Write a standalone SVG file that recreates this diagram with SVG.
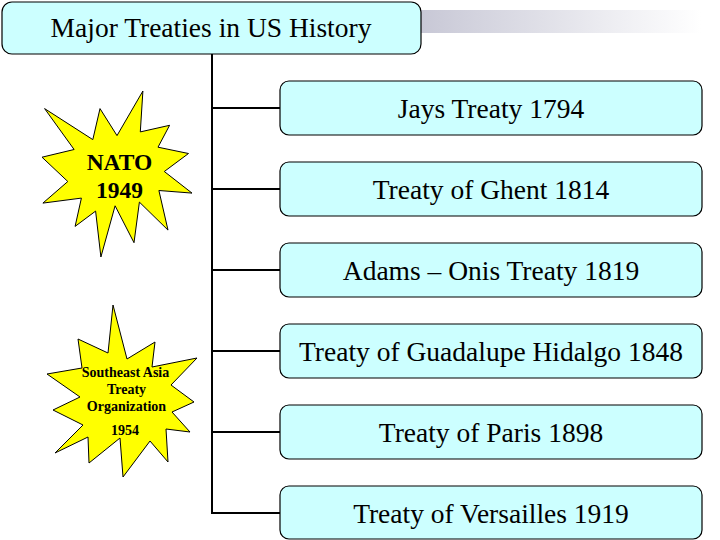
<svg xmlns="http://www.w3.org/2000/svg" width="720" height="540" viewBox="0 0 720 540">
<defs>
<linearGradient id="bar" x1="0" y1="0" x2="1" y2="0">
<stop offset="0" stop-color="#c8c8d6"/>
<stop offset="1" stop-color="#ffffff"/>
</linearGradient>
</defs>
<style>
.box{fill:#ccffff;stroke:#000;stroke-width:1.2}
.t{font-size:27.5px;fill:#000;text-anchor:middle}
.star{fill:#ffff00;stroke:#000;stroke-width:1}
.sb{font-weight:bold;fill:#000;text-anchor:middle}
.ln{stroke:#000;stroke-width:2;fill:none}
</style>
<rect width="720" height="540" fill="#fff"/>
<rect x="421" y="10" width="280" height="23" fill="url(#bar)"/>
<g id="connectors">
<line class="ln" x1="212" y1="54" x2="212" y2="513"/>
<line class="ln" x1="211" y1="108" x2="280" y2="108"/>
<line class="ln" x1="211" y1="189" x2="280" y2="189"/>
<line class="ln" x1="211" y1="270" x2="280" y2="270"/>
<line class="ln" x1="211" y1="351" x2="280" y2="351"/>
<line class="ln" x1="211" y1="432" x2="280" y2="432"/>
<line class="ln" x1="211" y1="513" x2="280" y2="513"/>
</g>
<g font-family="'Liberation Serif', 'Times New Roman', 'DejaVu Serif', serif">
<g id="title">
<rect class="box" x="2" y="2" width="419" height="52" rx="10"/>
<text class="t" x="211" y="37">Major Treaties in US History</text>
</g>
<g id="jays">
<rect class="box" x="280" y="81" width="422" height="54" rx="9"/>
<text class="t" x="491" y="118" font-size="25.7">Jays Treaty 1794</text>
</g>
<g id="ghent">
<rect class="box" x="280" y="162" width="422" height="54" rx="9"/>
<text class="t" x="491" y="199">Treaty of Ghent 1814</text>
</g>
<g id="adams">
<rect class="box" x="280" y="243" width="422" height="54" rx="9"/>
<text class="t" x="491" y="280">Adams – Onis Treaty 1819</text>
</g>
<g id="guadalupe">
<rect class="box" x="280" y="324" width="422" height="54" rx="9"/>
<text class="t" x="491" y="361">Treaty of Guadalupe Hidalgo 1848</text>
</g>
<g id="paris">
<rect class="box" x="280" y="405" width="422" height="54" rx="9"/>
<text class="t" x="491" y="442">Treaty of Paris 1898</text>
</g>
<g id="versailles">
<rect class="box" x="280" y="486" width="422" height="53" rx="9"/>
<text class="t" x="491" y="523">Treaty of Versailles 1919</text>
</g>
<g id="nato">
<polygon class="star" points="117,135.6 142.9,91 140.3,131.9 169.6,125.3 158,147.2 188.5,153.5 164.3,171.5 192,193.1 158.9,190.5 168,230.1 139.4,202.1 134,242.7 115.1,205.8 100.9,257 95.6,211.1 75.1,226.4 81.4,198.1 42.9,203.1 67.8,181.5 42,157.2 74.1,149.5 44.6,108.6 92.8,139.6 100,108.6"/>
<text class="sb" x="119.5" y="170" font-size="23.5">NATO</text>
<text class="sb" x="119.5" y="198" font-size="23.5">1949</text>
</g>
<g id="seato">
<polygon class="star" points="113,305 127,359 155,342 152,367 197,358 171,385 194,402 172,412 190,432 166,429 168,462 150,441 123,477 120,438 89,463 88,437 55,453 83,425 53,410 80,397 47,374 82,368 78,339 108,353"/>
<text class="sb" x="125.5" y="377" font-size="14">Southeast Asia</text>
<text class="sb" x="126.5" y="394" font-size="14">Treaty</text>
<text class="sb" x="126.5" y="411" font-size="14">Organization</text>
<text class="sb" x="125" y="435" font-size="14">1954</text>
</g>
</g>
</svg>
